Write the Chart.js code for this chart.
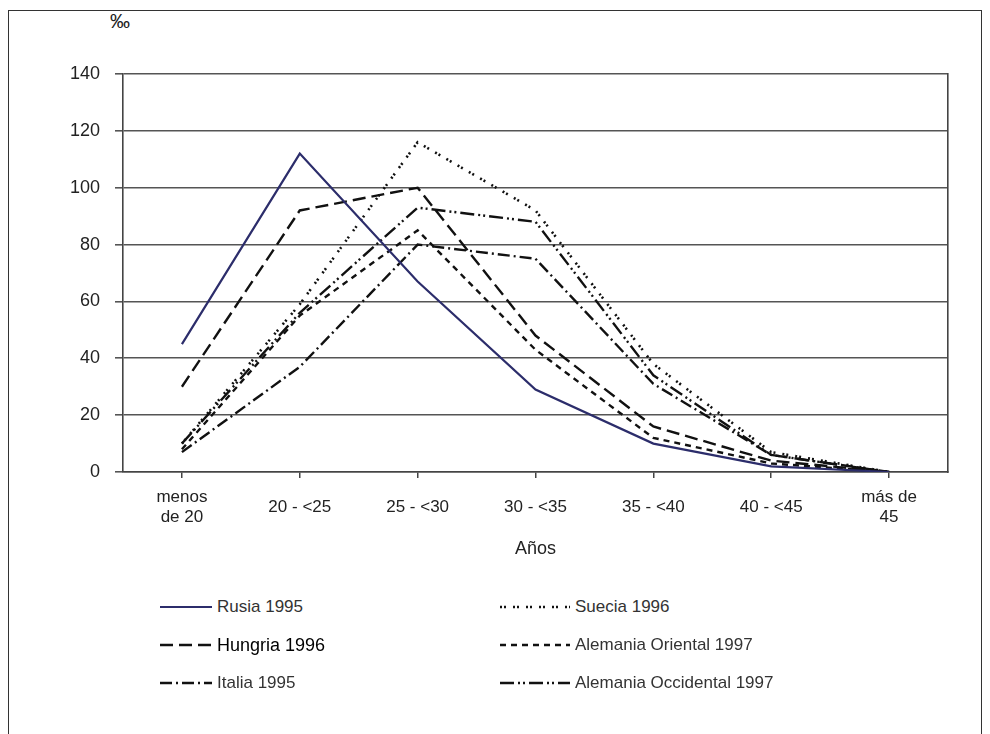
<!DOCTYPE html>
<html>
<head>
<meta charset="utf-8">
<script src="https://cdn.jsdelivr.net/npm/chart.js@4"></script>
<style>
  body { margin: 0; background: #fff; font-family: "Liberation Sans", Arial, sans-serif; }
  #frame { position: absolute; left: 8px; top: 10px; width: 972px; height: 740px;
           border: 1px solid #333; border-bottom: none; }
  #wrap { position: absolute; left: 0; top: 0; width: 990px; height: 580px; }
  #unit { position: absolute; left: 110px; top: 10px; font-size: 20px; color: #222; letter-spacing: -1px; }
  .leg { position: absolute; display: flex; align-items: center; font-size: 17px; color: #333; }
  .leg canvas { margin-right: 5px; }
</style>
</head>
<body>
<div id="frame"></div>
<div id="unit">‰</div>
<div id="wrap"><canvas id="chart"></canvas></div>
<div id="legend"></div>
<script>
const categories = [["menos", "de 20"], "20 - <25", "25 - <30", "30 - <35", "35 - <40", "40 - <45", ["más de", "45"]];

const rusia1995 = [45, 112, 67, 29, 10, 2, 0];
const hungria1996 = [30, 92, 100, 48, 16, 4, 0];
const italia1995 = [7, 37, 80, 75, 31, 6, 0];
const suecia1996 = [10, 59, 116, 92, 38, 7, 0];
const alemaniaOriental1997 = [8, 55, 85, 43, 12, 3, 0];
const alemaniaOccidental1997 = [10, 56, 93, 88, 34, 6, 0];

const yTicks = [0, 20, 40, 60, 80, 100, 120, 140];

// legend order: left column then right column
const series = [
  { label: "Rusia 1995", data: rusia1995, color: "#2c2d6b", dash: [], width: 2.2, col: 0, row: 0 },
  { label: "Hungria 1996", data: hungria1996, color: "#111", dash: [13, 6], width: 2.4, col: 0, row: 1 },
  { label: "Italia 1995", data: italia1995, color: "#111", dash: [12, 4, 2, 4], width: 2.4, col: 0, row: 2 },
  { label: "Suecia 1996", data: suecia1996, color: "#111", dash: [2, 2, 2, 7], width: 2.6, col: 1, row: 0 },
  { label: "Alemania Oriental 1997", data: alemaniaOriental1997, color: "#111", dash: [6, 5], width: 2.4, col: 1, row: 1 },
  { label: "Alemania Occidental 1997", data: alemaniaOccidental1997, color: "#111", dash: [14, 4, 2, 3, 2, 4], width: 2.4, col: 1, row: 2 }
];

const ctx = document.getElementById("chart").getContext("2d");

new Chart(ctx, {
  type: "line",
  data: {
    labels: categories,
    datasets: series.map(s => ({
      label: s.label,
      data: s.data,
      borderColor: s.color,
      borderDash: s.dash,
      borderWidth: s.width,
      pointRadius: 0,
      tension: 0,
      fill: false
    }))
  },
  options: {
    responsive: true,
    maintainAspectRatio: false,
    animation: false,
    layout: { padding: { left: 0, top: 74, right: 42, bottom: 15 } },
    plugins: { legend: { display: false }, tooltip: { enabled: false } },
    scales: {
      x: {
        offset: true,
        grid: { display: true, drawOnChartArea: false, tickLength: 6, color: "#444", lineWidth: 1.5 },
        border: { color: "#444", width: 1.5 },
        ticks: { color: "#222", font: { family: "Liberation Sans", size: 17 }, maxRotation: 0, autoSkip: false, padding: 19, crossAlign: "center" },
        title: { display: true, text: "Años", color: "#222", font: { family: "Liberation Sans", size: 18 }, padding: { top: 0, bottom: 5 } },
        afterFit: s => { s.height = 580 - 472 - 15; }
      },
      y: {
        min: 0,
        max: 140,
        afterBuildTicks: s => { s.ticks = yTicks.map(v => ({ value: v })); },
        grid: { color: "#555", lineWidth: 1.6, tickLength: 8 },
        border: { color: "#444", width: 1.6 },
        ticks: { color: "#222", font: { family: "Liberation Sans", size: 18 }, padding: 15 },
        afterFit: s => { s.width = 123; }
      },
      yRight: {
        position: "right",
        min: 0,
        max: 140,
        grid: { drawOnChartArea: false, drawTicks: false },
        border: { color: "#444", width: 1.6 },
        ticks: { display: false },
        afterFit: s => { s.width = 0; }
      }
    }
  }
});

// html legend built from the same series styles
const legend = document.getElementById("legend");
series.forEach(s => {
  const item = document.createElement("div");
  item.className = "leg";
  const sw = s.col === 0 ? 52 : 70;
  item.style.left = (s.col === 0 ? 160 : 500) + "px";
  item.style.top = (595 + s.row * 38) + "px";
  const c = document.createElement("canvas");
  c.width = sw; c.height = 24;
  const g = c.getContext("2d");
  g.strokeStyle = s.color;
  g.lineWidth = s.width;
  g.setLineDash(s.dash);
  g.beginPath(); g.moveTo(0, 12); g.lineTo(sw, 12); g.stroke();
  item.appendChild(c);
  const t = document.createElement("span");
  t.textContent = s.label;
  if (s.label === "Hungria 1996") { t.style.color = "#000"; t.style.fontSize = "18px"; }
  item.appendChild(t);
  legend.appendChild(item);
});
</script>
</body>
</html>
